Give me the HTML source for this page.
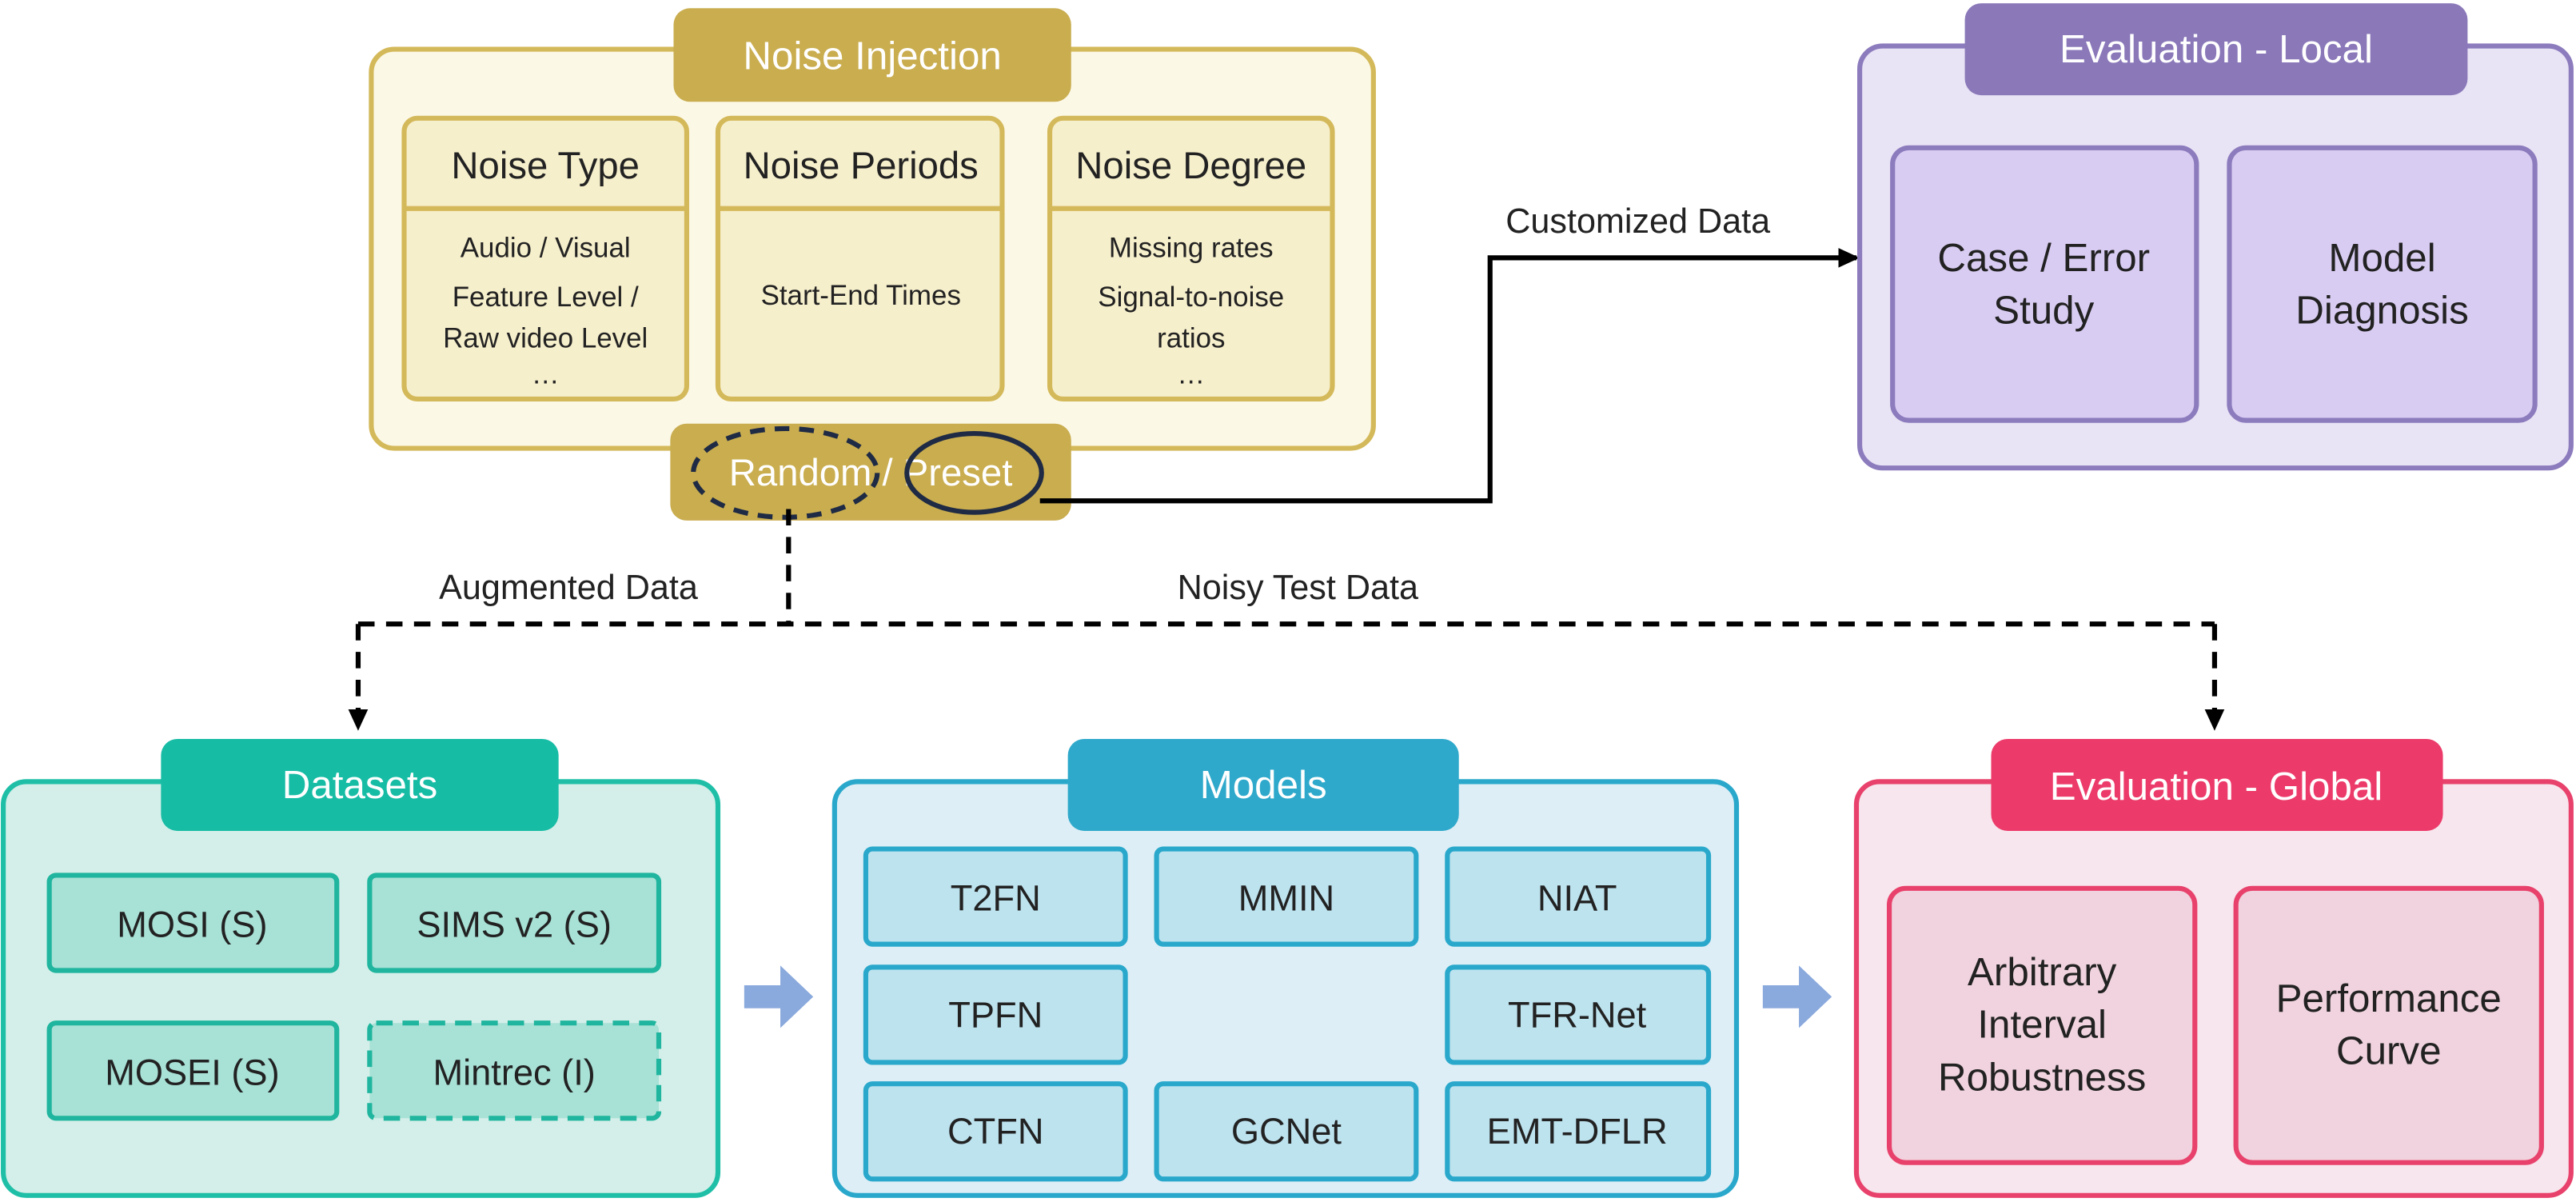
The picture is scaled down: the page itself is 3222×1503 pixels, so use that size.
<!DOCTYPE html>
<html><head><meta charset="utf-8"><style>
html,body{margin:0;padding:0;background:#fff;}
svg{display:block;}
text{font-family:"Liberation Sans",sans-serif;text-anchor:middle;dominant-baseline:central;}
</style></head><body>
<svg width="3222" height="1503" viewBox="0 0 1568 732" preserveAspectRatio="none" xmlns="http://www.w3.org/2000/svg">
<defs>
<marker id="ah" markerWidth="14" markerHeight="14" refX="11" refY="7" orient="auto" markerUnits="userSpaceOnUse"><path d="M0,1 L13,7 L0,13 z" fill="#000"/></marker>
</defs>
<!-- Noise Injection -->
<rect x="226" y="30" width="610" height="243" rx="14" fill="#fbf8e6" stroke="#d4b95a" stroke-width="3"/>
<g stroke="#d4b95a" stroke-width="3" fill="#f6efcc">
<rect x="246" y="72" width="172" height="171" rx="8"/>
<rect x="437" y="72" width="173" height="171" rx="8"/>
<rect x="639" y="72" width="172" height="171" rx="8"/>
<line x1="246" y1="127" x2="418" y2="127"/><line x1="437" y1="127" x2="610" y2="127"/><line x1="639" y1="127" x2="811" y2="127"/>
</g>
<g font-size="23" fill="#222">
<text x="332" y="101">Noise Type</text><text x="524" y="101">Noise Periods</text><text x="725" y="101">Noise Degree</text>
</g>
<g font-size="17" fill="#222">
<text x="332" y="151">Audio / Visual</text><text x="332" y="181">Feature Level /</text><text x="332" y="206">Raw video Level</text><text x="332" y="228">…</text>
<text x="524" y="180">Start-End Times</text>
<text x="725" y="151">Missing rates</text><text x="725" y="181">Signal-to-noise</text><text x="725" y="206">ratios</text><text x="725" y="228">…</text>
</g>
<rect x="410" y="5" width="242" height="57" rx="10" fill="#c9ad4f"/>
<text x="531" y="34" font-size="24" fill="#fff">Noise Injection</text>
<rect x="408" y="258" width="244" height="59" rx="10" fill="#c9ad4f"/>
<text x="530" y="288" font-size="23" fill="#fff">Random / Preset</text>
<ellipse cx="478" cy="288" rx="56" ry="27" fill="none" stroke="#1f2a44" stroke-width="3" stroke-dasharray="9,6"/>
<ellipse cx="593" cy="288" rx="41" ry="24" fill="none" stroke="#1f2a44" stroke-width="3"/>
<!-- connectors -->
<polyline points="633,305 907,305 907,157 1130,157" fill="none" stroke="#000" stroke-width="3" marker-end="url(#ah)"/>
<text x="997" y="135" font-size="21" fill="#222">Customized Data</text>
<g fill="none" stroke="#000" stroke-width="3" stroke-dasharray="10,7">
<line x1="480" y1="310" x2="480" y2="380"/>
<line x1="218" y1="380" x2="1348" y2="380"/>
<line x1="218" y1="380" x2="218" y2="443" marker-end="url(#ah)"/>
<line x1="1348" y1="380" x2="1348" y2="443" marker-end="url(#ah)"/>
</g>
<text x="346" y="358" font-size="21" fill="#222">Augmented Data</text>
<text x="790" y="358" font-size="21" fill="#222">Noisy Test Data</text>
<!-- Eval Local -->
<rect x="1132" y="28" width="433" height="257" rx="14" fill="#e8e3f5" stroke="#8c7bbd" stroke-width="3"/>
<rect x="1152" y="90" width="185" height="166" rx="10" fill="#d9ccf2" stroke="#8c7bbd" stroke-width="3"/>
<rect x="1357" y="90" width="186" height="166" rx="10" fill="#d9ccf2" stroke="#8c7bbd" stroke-width="3"/>
<g font-size="24" fill="#222"><text x="1244" y="157">Case / Error</text><text x="1244" y="189">Study</text><text x="1450" y="157">Model</text><text x="1450" y="189">Diagnosis</text></g>
<rect x="1196" y="2" width="306" height="56" rx="10" fill="#8a78b9"/>
<text x="1349" y="30" font-size="24" fill="#fff">Evaluation - Local</text>
<!-- Datasets -->
<rect x="2" y="476" width="435" height="252" rx="14" fill="#d4efe9" stroke="#1fbfa7" stroke-width="3"/>
<g fill="#a8e1d6" stroke="#20b59e" stroke-width="3">
<rect x="30" y="533" width="175" height="58" rx="4"/><rect x="225" y="533" width="176" height="58" rx="4"/>
<rect x="30" y="623" width="175" height="58" rx="4"/><rect x="225" y="623" width="176" height="58" rx="4" stroke-dasharray="10,6"/>
</g>
<g font-size="22" fill="#222"><text x="117" y="563">MOSI (S)</text><text x="313" y="563">SIMS v2 (S)</text><text x="117" y="653">MOSEI (S)</text><text x="313" y="653">Mintrec (I)</text></g>
<rect x="98" y="450" width="242" height="56" rx="10" fill="#17bca5"/>
<text x="219" y="478" font-size="24" fill="#fff">Datasets</text>
<path d="M453,600 h22 v-12 l20,19 l-20,19 v-12 h-22 z" fill="#8aa9dc"/>
<!-- Models -->
<rect x="508" y="476" width="549" height="252" rx="14" fill="#ddeef6" stroke="#2aa8cb" stroke-width="3"/>
<g fill="#bde3ef" stroke="#2aa8cb" stroke-width="3">
<rect x="527" y="517" width="158" height="58" rx="4"/><rect x="704" y="517" width="158" height="58" rx="4"/><rect x="881" y="517" width="159" height="58" rx="4"/>
<rect x="527" y="589" width="158" height="58" rx="4"/><rect x="881" y="589" width="159" height="58" rx="4"/>
<rect x="527" y="660" width="158" height="58" rx="4"/><rect x="704" y="660" width="158" height="58" rx="4"/><rect x="881" y="660" width="159" height="58" rx="4"/>
</g>
<g font-size="22" fill="#222">
<text x="606" y="547">T2FN</text><text x="783" y="547">MMIN</text><text x="960" y="547">NIAT</text>
<text x="606" y="618">TPFN</text><text x="960" y="618">TFR-Net</text>
<text x="606" y="689">CTFN</text><text x="783" y="689">GCNet</text><text x="960" y="689">EMT-DFLR</text>
</g>
<rect x="650" y="450" width="238" height="56" rx="10" fill="#2fa9cb"/>
<text x="769" y="478" font-size="24" fill="#fff">Models</text>
<path d="M1073,600 h22 v-12 l20,19 l-20,19 v-12 h-22 z" fill="#8aa9dc"/>
<!-- Eval Global -->
<rect x="1130" y="476" width="435" height="252" rx="14" fill="#f7e6ed" stroke="#e8416b" stroke-width="3"/>
<rect x="1150" y="541" width="186" height="167" rx="10" fill="#f0d3de" stroke="#e8416b" stroke-width="3"/>
<rect x="1361" y="541" width="186" height="167" rx="10" fill="#f0d3de" stroke="#e8416b" stroke-width="3"/>
<g font-size="24" fill="#222"><text x="1243" y="592">Arbitrary</text><text x="1243" y="624">Interval</text><text x="1243" y="656">Robustness</text><text x="1454" y="608">Performance</text><text x="1454" y="640">Curve</text></g>
<rect x="1212" y="450" width="275" height="56" rx="10" fill="#ec3b6a"/>
<text x="1349" y="479" font-size="24" fill="#fff">Evaluation - Global</text>
</svg>
</body></html>
